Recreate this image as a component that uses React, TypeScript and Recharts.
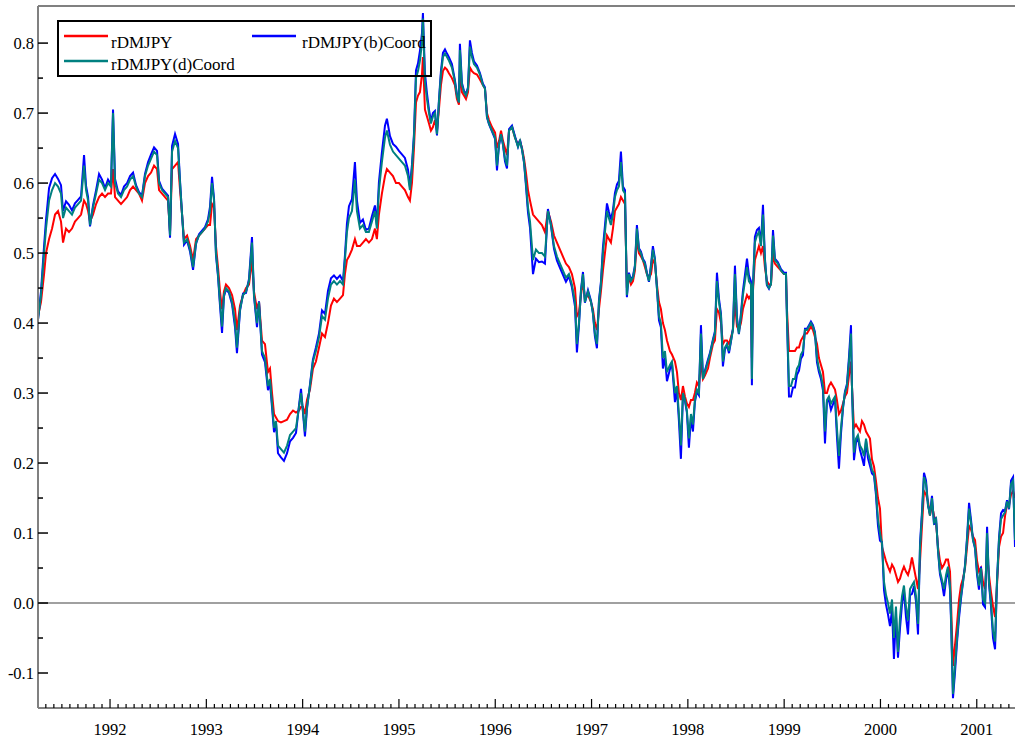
import { LineChart, Line, XAxis, YAxis, ReferenceLine, Legend } from 'recharts';

const FONT = "'Liberation Serif', 'Times New Roman', serif";
const AXIS_GREY = '#808080';

// decimal years of each sampled observation
const dates = [
  // 1991
  1991.252, 1991.283, 1991.315, 1991.335, 1991.367, 1991.398, 1991.429, 1991.46, 1991.491, 1991.512,
  1991.543, 1991.574, 1991.605, 1991.636, 1991.668, 1991.699, 1991.73, 1991.751, 1991.772, 1991.792,
  1991.823, 1991.855, 1991.886, 1991.917, 1991.948, 1991.979, 1992.01,
  // 1992
  1992.031, 1992.052, 1992.083, 1992.114, 1992.145, 1992.177, 1992.208, 1992.239, 1992.27, 1992.301,
  1992.332, 1992.363, 1992.395, 1992.426, 1992.457, 1992.488, 1992.509, 1992.54, 1992.571, 1992.602,
  1992.623, 1992.644, 1992.675, 1992.706, 1992.727, 1992.748, 1992.768, 1992.8, 1992.831, 1992.862,
  1992.893, 1992.924, 1992.955, 1992.986, 1993.017,
  // 1993
  1993.038, 1993.059, 1993.08, 1993.1, 1993.121, 1993.142, 1993.163, 1993.183, 1993.204, 1993.235,
  1993.267, 1993.298, 1993.318, 1993.35, 1993.381, 1993.412, 1993.443, 1993.474, 1993.495, 1993.526,
  1993.547, 1993.578, 1993.609, 1993.64, 1993.661, 1993.682, 1993.703, 1993.723, 1993.744, 1993.775,
  1993.806, 1993.838, 1993.869, 1993.9, 1993.931, 1993.962, 1993.983, 1994.003,
  // 1994
  1994.024, 1994.045, 1994.076, 1994.107, 1994.138, 1994.17, 1994.201, 1994.232, 1994.263, 1994.294,
  1994.325, 1994.356, 1994.388, 1994.419, 1994.439, 1994.46, 1994.481, 1994.512, 1994.543, 1994.564,
  1994.595, 1994.626, 1994.657, 1994.688, 1994.72, 1994.751, 1994.771, 1994.792, 1994.823, 1994.855,
  1994.875, 1994.907, 1994.938, 1994.969, 1995.0, 1995.031, 1995.062, 1995.094, 1995.114,
  // 1995
  1995.135, 1995.156, 1995.177, 1995.198, 1995.218, 1995.239, 1995.249, 1995.27, 1995.291, 1995.312,
  1995.332, 1995.353, 1995.374, 1995.395, 1995.415, 1995.436, 1995.457, 1995.478, 1995.499, 1995.519,
  1995.55, 1995.581, 1995.602, 1995.623, 1995.633, 1995.654, 1995.675, 1995.696, 1995.717, 1995.737,
  1995.758, 1995.779, 1995.81, 1995.841, 1995.872, 1995.893, 1995.914, 1995.935, 1995.966, 1995.998,
  1996.018, 1996.039, 1996.06, 1996.081, 1996.101, 1996.122, 1996.143,
  // 1996
  1996.174, 1996.205, 1996.236, 1996.257, 1996.278, 1996.299, 1996.319, 1996.34, 1996.361, 1996.392,
  1996.423, 1996.454, 1996.485, 1996.516, 1996.547, 1996.579, 1996.61, 1996.641, 1996.672, 1996.703,
  1996.734, 1996.765, 1996.796, 1996.828, 1996.848, 1996.869, 1996.89, 1996.911, 1996.931, 1996.963,
  1996.994, 1997.014, 1997.035, 1997.056, 1997.077, 1997.097, 1997.118, 1997.139, 1997.16,
  // 1997
  1997.18, 1997.201, 1997.222, 1997.243, 1997.264, 1997.284, 1997.305, 1997.326, 1997.347, 1997.367,
  1997.388, 1997.409, 1997.43, 1997.45, 1997.471, 1997.492, 1997.513, 1997.533, 1997.554, 1997.575,
  1997.596, 1997.617, 1997.637, 1997.658, 1997.679, 1997.7, 1997.72, 1997.741, 1997.762, 1997.783,
  1997.814, 1997.835, 1997.866, 1997.887, 1997.907, 1997.928, 1997.949, 1997.97, 1997.99, 1998.011,
  1998.032, 1998.053, 1998.073, 1998.094, 1998.115, 1998.136, 1998.157, 1998.177,
  // 1998
  1998.209, 1998.229, 1998.261, 1998.281, 1998.302, 1998.323, 1998.344, 1998.364, 1998.385, 1998.406,
  1998.427, 1998.448, 1998.468, 1998.489, 1998.51, 1998.53, 1998.551, 1998.572, 1998.593, 1998.614,
  1998.634, 1998.655, 1998.665, 1998.676, 1998.696, 1998.717, 1998.738, 1998.759, 1998.78, 1998.8,
  1998.821, 1998.842, 1998.863, 1998.884, 1998.904, 1998.935, 1998.967, 1998.998, 1999.019, 1999.029,
  1999.05, 1999.071, 1999.091, 1999.112, 1999.133, 1999.154, 1999.174,
  // 1999
  1999.195, 1999.216, 1999.237, 1999.258, 1999.278, 1999.299, 1999.32, 1999.341, 1999.361, 1999.382,
  1999.403, 1999.424, 1999.444, 1999.465, 1999.486, 1999.507, 1999.528, 1999.548, 1999.569, 1999.59,
  1999.611, 1999.631, 1999.652, 1999.673, 1999.694, 1999.704, 1999.725, 1999.746, 1999.766, 1999.787,
  1999.808, 1999.829, 1999.85, 1999.87, 1999.891, 1999.912, 1999.933, 1999.953, 1999.974, 1999.995,
  2000.016, 2000.037, 2000.057, 2000.078, 2000.099, 2000.12, 2000.14, 2000.161, 2000.182, 2000.203,
  // 2000-2001
  2000.224, 2000.244, 2000.265, 2000.286, 2000.307, 2000.327, 2000.348, 2000.369, 2000.39, 2000.411,
  2000.431, 2000.452, 2000.473, 2000.494, 2000.514, 2000.535, 2000.556, 2000.577, 2000.598, 2000.618,
  2000.639, 2000.66, 2000.681, 2000.701, 2000.722, 2000.733, 2000.753, 2000.774, 2000.795, 2000.816,
  2000.836, 2000.857, 2000.878, 2000.899, 2000.92, 2000.94, 2000.961, 2000.982, 2001.003, 2001.023,
  2001.044, 2001.065, 2001.086, 2001.107, 2001.127, 2001.148, 2001.169, 2001.19, 2001.21, 2001.231,
  2001.252, 2001.273, 2001.294, 2001.314, 2001.335, 2001.356, 2001.377, 2001.397,
];

const rDMJPY = [
  .41, .43, .47, .50, .52, .535, .555, .56, .545, .515, .535, .53, .535, .545, .55, .555, .575, .57, .56, .545,
  .555, .57, .58, .585, .58, .585, .585,
  .62, .58, .575, .57, .575, .58, .59, .595, .59, .585, .575, .60, .61, .615, .625, .62, .59, .585, .58, .575,
  .53, .62, .625, .63, .59, .555, .52, .525, .51, .49, .52, .525, .53, .535, .54,
  .54, .57, .565, .51, .48, .445, .42, .445, .455, .45, .44, .42, .39, .425, .44, .45, .455, .49, .445, .42,
  .43, .375, .37, .33, .335, .30, .27, .265, .26, .258, .26, .262, .27, .275, .272, .275, .28, .28,
  .27, .29, .305, .335, .345, .365, .385, .38, .40, .425, .435, .43, .435, .44, .47, .49, .495, .505, .52, .51,
  .51, .515, .52, .515, .52, .535, .52, .555, .585, .61, .62, .615, .61, .60, .60, .595, .59, .58, .575,
  .60, .65, .715, .725, .73, .755, .78, .705, .695, .685, .675, .68, .69, .675, .705, .74, .76, .765, .762, .757,
  .75, .74, .72, .712, .76, .73, .725, .72, .73, .765, .76, .757, .755, .748, .74, .735, .70, .69, .68, .672,
  .65, .66, .675, .66, .65, .64, .675,
  .68, .665, .655, .66, .65, .635, .615, .59, .575, .555, .55, .545, .54, .53, .56, .545, .525, .515, .505, .495,
  .485, .48, .47, .45, .41, .415, .44, .46, .435, .44, .43, .42, .40, .39, .42, .445, .475, .50, .525,
  .52, .515, .535, .56, .565, .57, .58, .575, .57, .45, .465, .455, .46, .475, .52, .50, .495, .49, .48, .47,
  .465, .47, .49, .485, .455, .43, .42, .40, .39, .375, .36, .355, .345, .33, .30, .29, .31, .295, .285, .28,
  .29, .29, .30, .315, .31, .345, .32, .325,
  .335, .35, .37, .375, .42, .415, .40, .37, .375, .375, .37, .38, .39, .43, .395, .39, .40, .42, .43, .44,
  .435, .44, .35, .445, .49, .50, .51, .50, .51, .48, .46, .455, .455, .50, .485, .48, .475, .47, .47, .42,
  .36, .36, .36, .36, .365, .365, .375,
  .38, .385, .385, .39, .395, .39, .38, .37, .35, .34, .33, .30, .30, .31, .315, .31, .305, .29, .27, .275,
  .285, .295, .30, .325, .345, .31, .25, .255, .25, .245, .26, .255, .245, .24, .235, .205, .195, .175, .15, .135,
  .08, .07, .06, .052, .045, .055, .05, .04, .03, .035,
  .045, .052, .045, .04, .05, .065, .05, .035, .02, .06, .11, .16, .155, .145, .125, .14, .125, .115, .08, .06,
  .05, .055, .062, .062, .045, 0, -.09, -.06, -.03, .005, .025, .035, .05, .08, .11, .105, .095, .09, .06, .045,
  .05, .03, .02, .07, .04, .015, -.005, -.02, .025, .08, .095, .10, .125, .14, .14, .155, .16, .15,
];

const rDMJPYbCoord = [
  .405, .445, .51, .547, .593, .607, .613, .606, .597, .56, .574, .569, .561, .571, .576, .581, .64, .596, .58, .538,
  .568, .59, .613, .605, .593, .605, .598,
  .705, .606, .588, .583, .595, .60, .61, .615, .597, .587, .582, .613, .63, .641, .651, .646, .603, .592, .587, .582,
  .522, .653, .67, .656, .603, .555, .512, .518, .502, .476, .513, .527, .532, .537, .548,
  .566, .609, .578, .497, .467, .425, .386, .438, .448, .443, .427, .394, .357, .418, .442, .443, .463, .523, .438, .394,
  .431, .355, .344, .304, .315, .28, .244, .258, .214, .208, .203, .214, .231, .236, .243, .282, .306, .273,
  .238, .277, .312, .348, .365, .385, .418, .413, .446, .464, .468, .463, .468, .46, .496, .542, .567, .577, .63, .575,
  .543, .548, .533, .535, .553, .568, .54, .601, .644, .682, .692, .667, .656, .652, .646, .641, .636, .619, .595,
  .626, .67, .761, .771, .789, .814, .843, .757, .728, .705, .688, .70, .703, .668, .718, .76, .786, .791, .785, .78,
  .77, .747, .727, .716, .799, .743, .732, .727, .737, .804, .786, .774, .768, .757, .742, .737, .694, .684, .674, .663,
  .618, .654, .669, .654, .631, .621, .677,
  .682, .667, .652, .662, .648, .629, .596, .558, .536, .47, .492, .487, .488, .485, .563, .539, .506, .489, .479, .469,
  .459, .467, .451, .424, .358, .396, .447, .473, .429, .447, .432, .414, .381, .364, .433, .458, .508, .539, .571,
  .559, .548, .561, .586, .598, .603, .645, .595, .59, .437, .472, .462, .467, .482, .54, .507, .502, .492, .487, .472,
  .459, .483, .51, .492, .449, .404, .394, .335, .351, .317, .334, .342, .287, .304, .261, .206, .297, .289, .272, .222,
  .264, .245, .287, .302, .297, .397, .322, .332,
  .348, .357, .377, .388, .472, .435, .413, .338, .362, .369, .357, .374, .392, .482, .408, .384, .413, .446, .469, .492,
  .468, .46, .311, .452, .523, .533, .536, .513, .569, .493, .454, .449, .457, .533, .492, .487, .477, .472, .472, .407,
  .295, .295, .308, .308, .326, .332, .349,
  .354, .392, .392, .397, .402, .397, .387, .344, .33, .32, .304, .228, .287, .29, .276, .284, .292, .238, .192, .242,
  .278, .302, .313, .351, .397, .312, .204, .229, .237, .219, .208, .196, .232, .207, .196, .185, .182, .155, .111, .089,
  .087, .018, -.002, -.016, -.033, -.01, -.08, -.018, -.078, -.036,
  -.001, .017, -.02, -.045, .011, .013, .024, .002, -.045, .086, .13, .186, .175, .139, .127, .153, .112, .122, .074, .041,
  .028, .01, .033, .049, .019, -.026, -.136, -.099, -.056, -.021, .006, .03, .054, .094, .143, .119, .09, .078, .04, .019,
  .052, -.002, -.006, .109, .027, -.005, -.05, -.066, .032, .093, .128, .133, .132, .147, .134, .175, .18, .08,
];

const rDMJPYdCoord = [
  .405, .44, .50, .535, .575, .59, .60, .595, .585, .55, .565, .56, .555, .565, .57, .575, .625, .59, .575, .54,
  .565, .585, .605, .60, .59, .60, .595,
  .70, .60, .585, .58, .59, .595, .605, .61, .595, .585, .58, .61, .625, .635, .645, .64, .60, .59, .585, .58,
  .525, .645, .66, .65, .60, .555, .515, .52, .505, .48, .515, .525, .53, .535, .545,
  .56, .60, .575, .50, .47, .43, .395, .44, .45, .445, .43, .40, .365, .42, .44, .445, .46, .515, .44, .40,
  .43, .36, .35, .31, .32, .285, .25, .26, .225, .22, .215, .225, .24, .245, .25, .28, .30, .275,
  .245, .28, .31, .345, .36, .38, .41, .405, .435, .455, .46, .455, .46, .455, .49, .53, .55, .56, .605, .56,
  .535, .54, .53, .53, .545, .56, .535, .59, .63, .665, .675, .655, .645, .64, .635, .63, .625, .61, .59,
  .62, .665, .75, .76, .775, .80, .835, .745, .72, .70, .685, .695, .70, .67, .715, .755, .78, .785, .78, .775,
  .765, .745, .725, .715, .79, .74, .73, .725, .735, .795, .78, .77, .765, .755, .74, .735, .695, .685, .675, .665,
  .625, .655, .67, .655, .635, .625, .675,
  .68, .665, .652, .66, .648, .63, .60, .565, .545, .49, .505, .50, .50, .495, .56, .54, .51, .495, .485, .475,
  .465, .47, .455, .43, .37, .40, .445, .47, .43, .445, .43, .415, .385, .37, .43, .455, .50, .53, .56,
  .55, .54, .555, .58, .59, .595, .63, .59, .585, .44, .47, .46, .465, .48, .535, .505, .50, .49, .485, .47,
  .46, .48, .505, .49, .45, .41, .40, .35, .36, .33, .34, .345, .30, .31, .27, .225, .30, .29, .275, .235,
  .27, .255, .29, .305, .30, .385, .32, .33,
  .345, .355, .375, .385, .46, .43, .41, .345, .365, .37, .36, .375, .39, .47, .405, .385, .41, .44, .46, .48,
  .46, .455, .32, .45, .515, .525, .53, .51, .555, .49, .455, .45, .455, .525, .49, .485, .475, .47, .47, .41,
  .31, .31, .32, .32, .335, .34, .355,
  .36, .39, .39, .395, .40, .395, .385, .35, .335, .325, .31, .245, .29, .295, .285, .29, .295, .25, .21, .25,
  .28, .30, .31, .345, .385, .31, .215, .235, .24, .225, .22, .21, .235, .215, .205, .19, .185, .16, .12, .10,
  .085, .03, .012, 0, -.015, .005, -.05, -.005, -.07, -.02,
  .01, .025, -.005, -.025, .02, .025, .03, .01, -.03, .08, .125, .18, .17, .14, .125, .15, .115, .12, .075, .045,
  .033, .02, .04, .052, .025, -.02, -.13, -.09, -.05, -.015, .01, .03, .052, .09, .135, .115, .09, .08, .045, .025,
  .05, .005, 0, .10, .03, 0, -.04, -.055, .03, .09, .12, .125, .13, .145, .135, .17, .175, .09,
];

const X_DOMAIN: [number, number] = [1991.252, 2001.397];
const Y_MIN = -0.15;
const Y_MAX = 0.853;

// monthly minor ticks, labelled every January
const xTicks: number[] = [];
for (let yr = 1991; yr <= 2001; yr++) {
  for (let m = 0; m < 12; m++) {
    const v = yr + m / 12;
    if (v >= X_DOMAIN[0] - 1e-6 && v <= X_DOMAIN[1]) xTicks.push(v);
  }
}
const yTicks = [-0.1, -0.05, 0, 0.05, 0.1, 0.15, 0.2, 0.25, 0.3, 0.35, 0.4, 0.45, 0.5, 0.55, 0.6, 0.65, 0.7, 0.75, 0.8];

const data = dates.map((t, i) => ({
  t,
  rDMJPY: rDMJPY[i],
  bCoord: rDMJPYbCoord[i],
  dCoord: rDMJPYdCoord[i],
}));

const labelStyle = { fontFamily: FONT, fontSize: 16.5 };

const XTick = (props: any) => {
  const { x, y, payload } = props;
  const v = payload.value as number;
  const isYear = Math.abs(v - Math.round(v)) < 1e-6;
  return (
    <g>
      <line x1={x} x2={x} y1={y} y2={y - (isYear ? 9 : 4)} stroke="#000" strokeWidth={1.2} />
      {isYear && (
        <text x={x} y={y + 27} textAnchor="middle" style={labelStyle} fill="#000">
          {Math.round(v)}
        </text>
      )}
    </g>
  );
};

const YTick = (props: any) => {
  const { x, y, payload } = props;
  const v = payload.value as number;
  const isMajor = Math.abs(v * 10 - Math.round(v * 10)) < 1e-6;
  return (
    <g>
      <line x1={x} x2={x + (isMajor ? 10 : 5)} y1={y} y2={y} stroke="#000" strokeWidth={1.5} />
      {isMajor && (
        <text x={x - 4} y={y} dy="0.35em" textAnchor="end" style={labelStyle} fill="#000">
          {v.toFixed(1)}
        </text>
      )}
    </g>
  );
};

const legendText = { fontFamily: FONT, fontSize: 17 };

const LegendBox = () => (
  <svg width={375} height={57} style={{ display: 'block', overflow: 'visible' }}>
    <rect x={1} y={1} width={373} height={55} fill="none" stroke="#000" strokeWidth={2} />
    <line x1={7} x2={51} y1={16} y2={16} stroke="#ff0000" strokeWidth={2.5} />
    <text x={54} y={28} style={legendText} fill="#000">rDMJPY</text>
    <line x1={195} x2={239} y1={16} y2={16} stroke="#0000ff" strokeWidth={2.5} />
    <text x={245} y={28} style={legendText} fill="#000">rDMJPY(b)Coord</text>
    <line x1={7} x2={51} y1={41} y2={41} stroke="#008080" strokeWidth={2.5} />
    <text x={54} y={50} style={legendText} fill="#000">rDMJPY(d)Coord</text>
  </svg>
);

export default function App() {
  return (
    <div style={{ position: 'absolute', left: 0, top: 0, width: 1015, height: 738, background: '#fff', fontFamily: FONT }}>
      <LineChart width={1015} height={738} data={data} margin={{ top: 6, right: 0, bottom: 0, left: 0 }}>
        <XAxis
          dataKey="t"
          type="number"
          domain={X_DOMAIN}
          allowDataOverflow
          ticks={xTicks}
          interval={0}
          height={30}
          tickSize={0}
          tickMargin={0}
          tickLine={false}
          tick={XTick}
          axisLine={{ stroke: AXIS_GREY, strokeWidth: 2 }}
        />
        <YAxis
          type="number"
          domain={[Y_MIN, Y_MAX]}
          allowDataOverflow
          ticks={yTicks}
          interval={0}
          width={38}
          tickSize={0}
          tickMargin={0}
          tickLine={false}
          tick={YTick}
          axisLine={{ stroke: AXIS_GREY, strokeWidth: 2 }}
        />
        <ReferenceLine y={Y_MAX} stroke={AXIS_GREY} strokeWidth={2} />
        <ReferenceLine y={0} stroke={AXIS_GREY} strokeWidth={1.5} />
        <Legend
          layout="vertical"
          align="center"
          verticalAlign="middle"
          content={() => <LegendBox />}
          wrapperStyle={{ left: 57, top: 20, width: 375, height: 57 }}
        />
        <Line type="linear" dataKey="rDMJPY" stroke="#ff0000" strokeWidth={2} dot={false} isAnimationActive={false} />
        <Line type="linear" dataKey="bCoord" stroke="#0000ff" strokeWidth={2} dot={false} isAnimationActive={false} />
        <Line type="linear" dataKey="dCoord" stroke="#008080" strokeWidth={2} dot={false} isAnimationActive={false} />
      </LineChart>
    </div>
  );
}
